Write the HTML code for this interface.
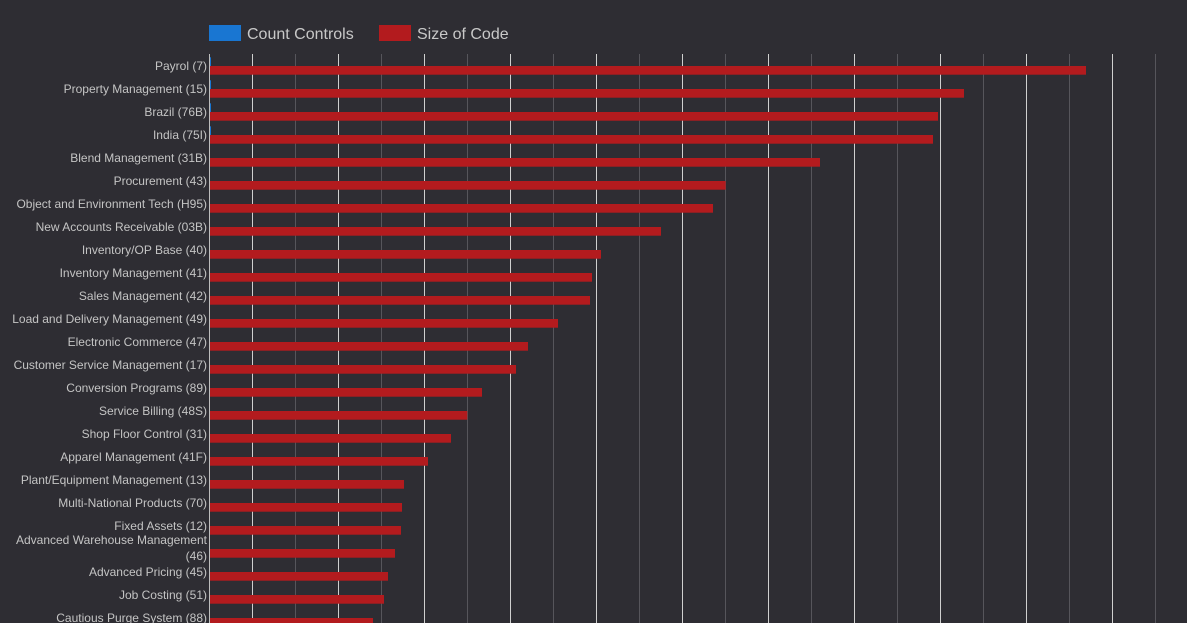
<!DOCTYPE html>
<html>
<head>
<meta charset="utf-8">
<style>
html,body{margin:0;padding:0;background:#2e2d33;}
svg{display:block;}
text{font-family:"Liberation Sans",sans-serif;}
</style>
</head>
<body>
<svg width="1187" height="623" viewBox="0 0 1187 623" xmlns="http://www.w3.org/2000/svg">
<rect x="0" y="0" width="1187" height="623" fill="#2e2d33"/>
<!-- legend -->
<rect x="209" y="25" width="32" height="16" fill="#1976d2"/>
<text x="247" y="39" font-size="16" fill="#c8c8c8">Count Controls</text>
<rect x="379" y="25" width="32" height="16" fill="#b31b1e"/>
<text x="417" y="39" font-size="16" fill="#c8c8c8">Size of Code</text>
<!-- gridlines -->
<g stroke-width="1">
<line x1="252.5" y1="54" x2="252.5" y2="623" stroke="#cfcfcf"/>
<line x1="295.5" y1="54" x2="295.5" y2="623" stroke="#56555b"/>
<line x1="338.5" y1="54" x2="338.5" y2="623" stroke="#cfcfcf"/>
<line x1="381.5" y1="54" x2="381.5" y2="623" stroke="#56555b"/>
<line x1="424.5" y1="54" x2="424.5" y2="623" stroke="#cfcfcf"/>
<line x1="467.5" y1="54" x2="467.5" y2="623" stroke="#56555b"/>
<line x1="510.5" y1="54" x2="510.5" y2="623" stroke="#cfcfcf"/>
<line x1="553.5" y1="54" x2="553.5" y2="623" stroke="#56555b"/>
<line x1="596.5" y1="54" x2="596.5" y2="623" stroke="#cfcfcf"/>
<line x1="639.5" y1="54" x2="639.5" y2="623" stroke="#56555b"/>
<line x1="682.5" y1="54" x2="682.5" y2="623" stroke="#cfcfcf"/>
<line x1="725.5" y1="54" x2="725.5" y2="623" stroke="#56555b"/>
<line x1="768.5" y1="54" x2="768.5" y2="623" stroke="#cfcfcf"/>
<line x1="811.5" y1="54" x2="811.5" y2="623" stroke="#56555b"/>
<line x1="854.5" y1="54" x2="854.5" y2="623" stroke="#cfcfcf"/>
<line x1="897.5" y1="54" x2="897.5" y2="623" stroke="#56555b"/>
<line x1="940.5" y1="54" x2="940.5" y2="623" stroke="#cfcfcf"/>
<line x1="983.5" y1="54" x2="983.5" y2="623" stroke="#56555b"/>
<line x1="1026.5" y1="54" x2="1026.5" y2="623" stroke="#cfcfcf"/>
<line x1="1069.5" y1="54" x2="1069.5" y2="623" stroke="#56555b"/>
<line x1="1112.5" y1="54" x2="1112.5" y2="623" stroke="#cfcfcf"/>
<line x1="1155.5" y1="54" x2="1155.5" y2="623" stroke="#56555b"/>
</g>
<!-- bars -->
<g fill="#b31b1e">
<rect x="209" y="66" width="877" height="8.7"/>
<rect x="209" y="89" width="755" height="8.7"/>
<rect x="209" y="112" width="729" height="8.7"/>
<rect x="209" y="135" width="724" height="8.7"/>
<rect x="209" y="158" width="611" height="8.7"/>
<rect x="209" y="181" width="516.7" height="8.7"/>
<rect x="209" y="204" width="504" height="8.7"/>
<rect x="209" y="227" width="452" height="8.7"/>
<rect x="209" y="250" width="392" height="8.7"/>
<rect x="209" y="273" width="383" height="8.7"/>
<rect x="209" y="296" width="381" height="8.7"/>
<rect x="209" y="319" width="349" height="8.7"/>
<rect x="209" y="342" width="319" height="8.7"/>
<rect x="209" y="365" width="307" height="8.7"/>
<rect x="209" y="388" width="273" height="8.7"/>
<rect x="209" y="411" width="258.3" height="8.7"/>
<rect x="209" y="434" width="242" height="8.7"/>
<rect x="209" y="457" width="219" height="8.7"/>
<rect x="209" y="480" width="195" height="8.7"/>
<rect x="209" y="503" width="193" height="8.7"/>
<rect x="209" y="526" width="192" height="8.7"/>
<rect x="209" y="549" width="186" height="8.7"/>
<rect x="209" y="572" width="179" height="8.7"/>
<rect x="209" y="595" width="175" height="8.7"/>
<rect x="209" y="618" width="164" height="8.7"/>
</g>
<g fill="#1976d2">
<rect x="209" y="57.3" width="2" height="8.7"/>
<rect x="209" y="80.3" width="2" height="8.7"/>
<rect x="209" y="103.3" width="2" height="8.7"/>
<rect x="209" y="126.3" width="2" height="8.7"/>
</g>
<!-- axis -->
<line x1="209.5" y1="54" x2="209.5" y2="623" stroke="#bdbdbd" stroke-width="1"/>
<!-- labels -->
<g font-size="12" fill="#c4c4c4" text-anchor="end">
<text x="207" y="70">Payrol (7)</text>
<text x="207" y="93">Property Management (15)</text>
<text x="207" y="116">Brazil (76B)</text>
<text x="207" y="139">India (75I)</text>
<text x="207" y="162">Blend Management (31B)</text>
<text x="207" y="185">Procurement (43)</text>
<text x="207" y="208">Object and Environment Tech (H95)</text>
<text x="207" y="231">New Accounts Receivable (03B)</text>
<text x="207" y="254">Inventory/OP Base (40)</text>
<text x="207" y="277">Inventory Management (41)</text>
<text x="207" y="300">Sales Management (42)</text>
<text x="207" y="323">Load and Delivery Management (49)</text>
<text x="207" y="346">Electronic Commerce (47)</text>
<text x="207" y="369">Customer Service Management (17)</text>
<text x="207" y="392">Conversion Programs (89)</text>
<text x="207" y="415">Service Billing (48S)</text>
<text x="207" y="438">Shop Floor Control (31)</text>
<text x="207" y="461">Apparel Management (41F)</text>
<text x="207" y="484">Plant/Equipment Management (13)</text>
<text x="207" y="507">Multi-National Products (70)</text>
<text x="207" y="530">Fixed Assets (12)</text>
<text x="207" y="544">Advanced Warehouse Management</text>
<text x="207" y="560">(46)</text>
<text x="207" y="576">Advanced Pricing (45)</text>
<text x="207" y="599">Job Costing (51)</text>
<text x="207" y="622">Cautious Purge System (88)</text>
</g>
</svg>
</body>
</html>
